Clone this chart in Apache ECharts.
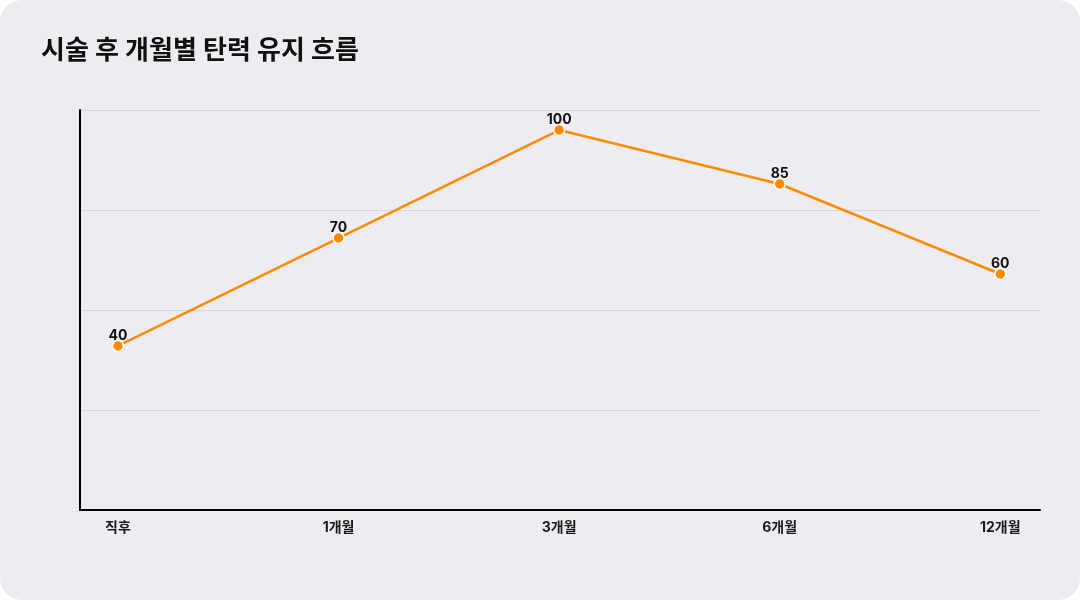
<!DOCTYPE html>
<html lang="ko">
<head>
    <meta charset="utf-8">
    <title>시술 후 개월별 탄력 유지 흐름</title>
    <script src="https://cdn.jsdelivr.net/npm/echarts@6/dist/echarts.min.js"></script>
    <style>
        html, body { margin: 0; padding: 0; background: #ffffff; }
        #main {
            width: 1080px; height: 600px;
            background: #edecf1;
            border-radius: 22px;
            overflow: hidden;
        }
    </style>
</head>
<body>
    <div id="main"></div>
<script type="text/javascript">
    // 데이터
    var categories = ['직후', '1개월', '3개월', '6개월', '12개월'];
    var elasticity = [40, 70, 100, 85, 60];
    var categoryIndex = [0, 1, 2, 3, 4];

    var seriesData = [];
    for (var i = 0; i < elasticity.length; i++) {
        seriesData.push([categoryIndex[i], elasticity[i]]);
    }

    var fontFamily = "Inter, 'Noto Sans CJK KR', sans-serif";

    var myChart = echarts.init(document.getElementById('main'));

    var option = {
        backgroundColor: 'transparent',
        animation: false,
        title: {
            text: '시술 후 개월별 탄력 유지 흐름',
            left: 36,
            top: 33,
            textStyle: {
                fontSize: 26,
                fontWeight: 'bold',
                color: '#111111',
                fontFamily: fontFamily
            }
        },
        grid: {
            left: 80,
            right: 40,
            top: 110,
            bottom: 90
        },
        xAxis: {
            type: 'value',
            min: -0.172,
            max: 4.18,
            axisLine: { show: true, onZero: false, lineStyle: { color: '#000000', width: 2 } },
            axisTick: { show: false },
            splitLine: { show: false },
            axisLabel: {
                customValues: categoryIndex,
                formatter: function (v) { return categories[Math.round(v)]; },
                margin: 11,
                fontSize: 14,
                fontWeight: 'bold',
                color: '#1a1a1a',
                fontFamily: fontFamily
            }
        },
        yAxis: [
            {
                // 데이터 축
                type: 'value',
                min: -5.56,
                max: 105.56,
                axisLine: { show: true, onZero: false, lineStyle: { color: '#000000', width: 2 } },
                axisTick: { show: false },
                axisLabel: { show: false },
                splitLine: { show: false }
            },
            {
                // 격자선용 축
                type: 'value',
                min: 0,
                max: 4,
                interval: 1,
                position: 'left',
                axisLine: { show: false },
                axisTick: { show: false },
                axisLabel: { show: false },
                splitLine: { show: true, lineStyle: { color: '#d8d7dd', width: 1 } }
            }
        ],
        series: [
            {
                name: '탄력',
                type: 'line',
                yAxisIndex: 0,
                data: seriesData,
                symbol: 'circle',
                symbolSize: 11,
                z: 5,
                lineStyle: { color: '#ff8a00', width: 2.5 },
                itemStyle: { color: '#ff8a00', borderColor: '#ffffff', borderWidth: 1.5 },
                label: {
                    show: true,
                    position: 'top',
                    distance: -3,
                    formatter: function (p) { return p.value[1]; },
                    fontSize: 14,
                    fontWeight: 'bold',
                    color: '#111111',
                    fontFamily: fontFamily
                }
            }
        ]
    };

    myChart.setOption(option);
</script>
</body>
</html>
